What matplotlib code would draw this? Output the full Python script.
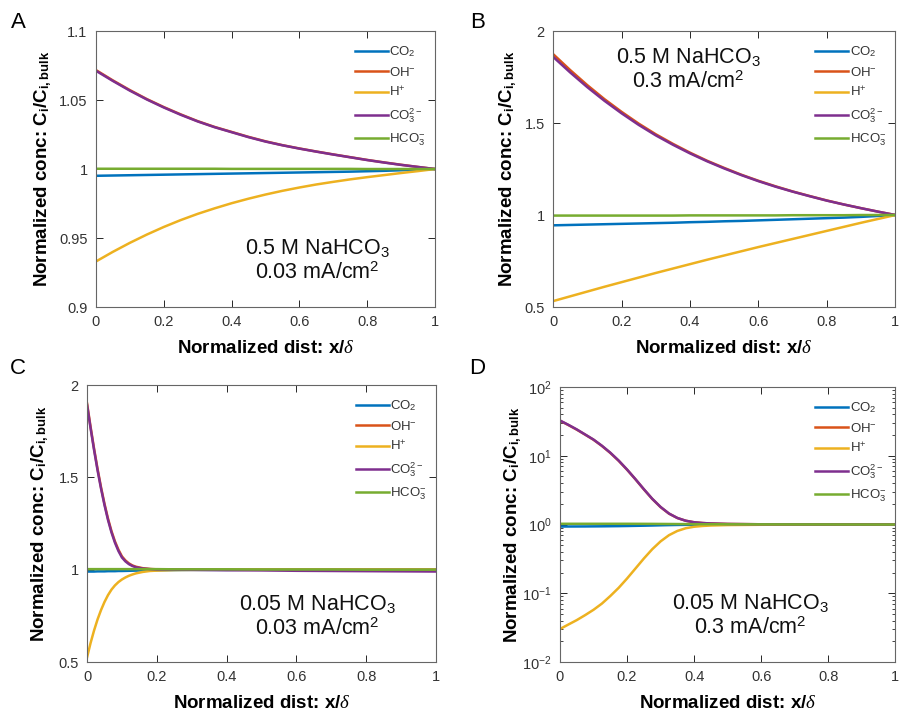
import numpy as np
import matplotlib
matplotlib.use("Agg")
import matplotlib.pyplot as plt
from matplotlib.ticker import FormatStrFormatter, LogLocator

plt.rcParams['font.family'] = ['Liberation Sans', 'DejaVu Sans']
plt.rcParams['mathtext.fontset'] = 'custom'
plt.rcParams['mathtext.rm'] = 'Liberation Sans'
plt.rcParams['mathtext.bf'] = 'Liberation Sans:bold'
plt.rcParams['mathtext.it'] = 'Liberation Serif:italic'
plt.rcParams['mathtext.sf'] = 'Liberation Sans'

# MATLAB default line colours
colors = ['#0072BD', '#D95319', '#EDB120', '#7E2F8E', '#77AC30']
species = ['CO$_2$', 'OH$^{-}$', 'H$^{+}$', 'CO$_3^{2-}$', 'HCO$_3^{-}$']

# ---- panel A: 0.5 M NaHCO3, 0.03 mA/cm2
x_A = np.linspace(0, 1, 21)
co2_A = [0.9951, 0.9953, 0.9955, 0.9957, 0.9959, 0.9961, 0.9963, 0.9965, 0.9967, 0.9969, 0.9971,
         0.9973, 0.9975, 0.9977, 0.9979, 0.9981, 0.9984, 0.9987, 0.9991, 0.9995, 1.0]
oh_A = [1.0717, 1.0642, 1.0572, 1.0507, 1.0449, 1.0396, 1.0347, 1.0305, 1.0269, 1.0233, 1.0201,
        1.0173, 1.0149, 1.0127, 1.0106, 1.0086, 1.0066, 1.0048, 1.0031, 1.0015, 1.0]
h_A = [0.933, 0.940, 0.9465, 0.9525, 0.958, 0.963, 0.9675, 0.9715, 0.9752, 0.9785, 0.9815,
       0.9842, 0.9866, 0.9888, 0.9907, 0.9925, 0.9941, 0.9956, 0.9971, 0.9985, 1.0]
co3_A = [1.0712, 1.0638, 1.0568, 1.0504, 1.0446, 1.0393, 1.0345, 1.0303, 1.0267, 1.0231, 1.0199,
         1.0172, 1.0148, 1.0126, 1.0105, 1.0085, 1.0065, 1.0047, 1.0030, 1.0015, 1.0]
hco3_A = [1.0002, 1.0002, 1.0002, 1.0002, 1.0002, 1.0002, 1.0002, 1.0002, 1.0001, 1.0001, 1.0001,
          1.0001, 1.0001, 1.0001, 1.0001, 1.0001, 1.0, 1.0, 1.0, 1.0, 1.0]

# ---- panel B: 0.5 M NaHCO3, 0.3 mA/cm2
x_B = np.linspace(0, 1, 21)
co2_B = [0.944, 0.946, 0.948, 0.950, 0.952, 0.954, 0.956, 0.958, 0.961, 0.963, 0.966,
         0.968, 0.971, 0.974, 0.977, 0.980, 0.983, 0.986, 0.990, 0.995, 1.0]
oh_B = [1.875, 1.788, 1.706, 1.630, 1.561, 1.497, 1.439, 1.387, 1.339, 1.295, 1.256,
        1.219, 1.186, 1.156, 1.128, 1.103, 1.079, 1.057, 1.037, 1.018, 1.0]
h_B = [0.532, 0.558, 0.584, 0.610, 0.635, 0.660, 0.685, 0.709, 0.733, 0.757, 0.780,
       0.803, 0.826, 0.848, 0.870, 0.892, 0.914, 0.936, 0.958, 0.979, 1.0]
co3_B = [1.860, 1.775, 1.695, 1.621, 1.553, 1.490, 1.433, 1.382, 1.335, 1.292, 1.253,
         1.217, 1.184, 1.154, 1.127, 1.102, 1.078, 1.057, 1.037, 1.018, 1.0]
hco3_B = [0.997, 0.997, 0.997, 0.997, 0.997, 0.997, 0.997, 0.997, 0.998, 0.998, 0.998,
          0.998, 0.998, 0.998, 0.999, 0.999, 0.999, 0.999, 1.0, 1.0, 1.0]

# ---- panel C: 0.05 M NaHCO3, 0.03 mA/cm2
x_C = [0, 0.01, 0.02, 0.03, 0.04, 0.05, 0.06, 0.07, 0.08, 0.09, 0.10,
       0.11, 0.12, 0.13, 0.14, 0.16, 0.18, 0.20,
       0.25, 0.30, 0.4, 0.5, 0.6, 0.7, 0.8, 0.9, 1.0]
co2_C = [0.990, 0.990, 0.990, 0.991, 0.991, 0.991, 0.992, 0.992, 0.992, 0.993, 0.993,
         0.9935, 0.994, 0.9945, 0.995, 0.996, 0.997, 0.997,
         0.998, 0.999, 0.999, 1.0, 1.0, 1.0, 1.0, 1.0, 1.0]
oh_C = [1.900, 1.775, 1.657, 1.547, 1.447, 1.357, 1.277, 1.209, 1.153, 1.108, 1.072,
        1.050, 1.034, 1.023, 1.016, 1.008, 1.004, 1.002,
        1.001, 1.0, 1.0, 1.0, 1.0, 1.0, 1.0, 1.0, 1.0]
h_C = [0.525, 0.602, 0.670, 0.730, 0.781, 0.825, 0.862, 0.892, 0.915, 0.933, 0.947,
       0.958, 0.967, 0.974, 0.980, 0.988, 0.993, 0.995,
       0.998, 0.999, 1.0, 1.0, 1.0, 1.0, 1.0, 1.0, 1.0]
co3_C = [1.893, 1.768, 1.650, 1.540, 1.440, 1.350, 1.270, 1.202, 1.146, 1.101, 1.066,
         1.045, 1.030, 1.020, 1.013, 1.006, 1.003, 1.001,
         1.0, 0.999, 0.997, 0.996, 0.994, 0.993, 0.992, 0.991, 0.990]
hco3_C = [1.003, 1.003, 1.003, 1.003, 1.003, 1.003, 1.003, 1.003, 1.003, 1.003, 1.003,
          1.003, 1.003, 1.003, 1.003, 1.003, 1.003, 1.003,
          1.002, 1.002, 1.002, 1.001, 1.001, 1.001, 1.0, 1.0, 1.0]

# ---- panel D: 0.05 M NaHCO3, 0.3 mA/cm2 (log scale)
x_D = [0, 0.025, 0.05, 0.075, 0.1, 0.125, 0.15, 0.175, 0.2, 0.225, 0.25, 0.275, 0.3, 0.325,
       0.35, 0.375, 0.4, 0.425, 0.45, 0.5, 0.6, 0.7, 0.8, 0.9, 1.0]
co2_D = [0.935, 0.936, 0.937, 0.938, 0.940, 0.942, 0.945, 0.948, 0.952, 0.957, 0.962, 0.968,
         0.975, 0.981, 0.986, 0.990, 0.993, 0.995, 0.996, 0.998, 0.999, 1.0, 1.0, 1.0, 1.0]
oh_D = [32.4, 28.0, 24.0, 20.3, 17.1, 13.9, 11.0, 8.45, 6.27, 4.55, 3.25, 2.36, 1.79, 1.44,
        1.243, 1.134, 1.078, 1.051, 1.035, 1.019, 1.008, 1.004, 1.002, 1.001, 1.0]
h_D = [0.0302, 0.0351, 0.0407, 0.0481, 0.0575, 0.0708, 0.0912, 0.120, 0.164, 0.229, 0.320,
       0.437, 0.569, 0.700, 0.807, 0.883, 0.929, 0.953, 0.968, 0.982, 0.992, 0.996, 0.998,
       0.999, 1.0]
co3_D = [32.6, 28.2, 24.2, 20.4, 17.2, 14.0, 11.1, 8.51, 6.31, 4.57, 3.27, 2.37, 1.80, 1.445,
         1.245, 1.135, 1.079, 1.052, 1.035, 1.019, 1.008, 1.004, 1.002, 1.001, 1.0]
hco3_D = [1.025, 1.025, 1.025, 1.025, 1.025, 1.025, 1.025, 1.025, 1.025, 1.024, 1.023, 1.022,
          1.020, 1.018, 1.016, 1.014, 1.012, 1.011, 1.010, 1.008, 1.006, 1.004, 1.003, 1.001, 1.0]

panels = [
    ('A', x_A, [co2_A, oh_A, h_A, co3_A, hco3_A], [0.9, 1.1], [0.9, 0.95, 1, 1.05, 1.1],
     '0.5 M NaHCO$_3$\n0.03 mA/cm$^2$', (0.652, 0.17), False),
    ('B', x_B, [co2_B, oh_B, h_B, co3_B, hco3_B], [0.5, 2], [0.5, 1, 1.5, 2],
     '0.5 M NaHCO$_3$\n0.3 mA/cm$^2$', (0.395, 0.86), False),
    ('C', x_C, [co2_C, oh_C, h_C, co3_C, hco3_C], [0.5, 2], [0.5, 1, 1.5, 2],
     '0.05 M NaHCO$_3$\n0.03 mA/cm$^2$', (0.659, 0.163), False),
    ('D', x_D, [co2_D, oh_D, h_D, co3_D, hco3_D], [1e-2, 1e2], None,
     '0.05 M NaHCO$_3$\n0.3 mA/cm$^2$', (0.568, 0.17), True),
]

# axes rectangles in figure fractions (left, bottom, width, height)
rects = [
    [0.1065, 0.5706, 0.3762, 0.386],
    [0.6138, 0.5706, 0.3800, 0.386],
    [0.0966, 0.0741, 0.3873, 0.3874],
    [0.6215, 0.0741, 0.3723, 0.3846],
]
ylab_x = [-0.123, -0.098, -0.103, -0.108]
letter_pos = [(0.020, 0.969), (0.530, 0.969), (0.020, 0.485), (0.530, 0.485)]

fig = plt.figure(figsize=(9.01, 7.15), dpi=100)
axcol = '#262626'

for i, (tag, x, ys, ylim, yticks, note, note_pos, logy) in enumerate(panels):
    ax = fig.add_axes(rects[i])
    for y, c, lab in zip(ys, colors, species):
        ax.plot(x, y, color=c, lw=1.8, label=lab)
    if logy:
        ax.set_yscale('log')
        ax.yaxis.set_major_locator(LogLocator(base=10, numticks=10))
    else:
        ax.set_yticks(yticks)
        ax.yaxis.set_major_formatter(FormatStrFormatter('%g'))
    ax.set_xlim(0, 1)
    ax.set_ylim(*ylim)
    ax.set_xticks([0, 0.2, 0.4, 0.6, 0.8, 1])
    ax.xaxis.set_major_formatter(FormatStrFormatter('%g'))
    ax.tick_params(which='both', direction='in', top=True, right=True,
                   labelsize=10.5, colors=axcol, labelcolor='#333333', pad=6)
    ax.tick_params(which='major', length=5, width=0.7)
    ax.tick_params(which='minor', length=2.5, width=0.6)
    for s in ax.spines.values():
        s.set_color('#666666')
        s.set_linewidth(0.8)

    ax.set_xlabel(r'Normalized dist: x/$\delta$', fontsize=13.5, fontweight='bold')
    ax.xaxis.set_label_coords(0.5, -0.12)
    ax.set_ylabel(r'Normalized conc: C$_\mathbf{i}$/C$_\mathbf{i,bulk}$',
                  fontsize=13.5, fontweight='bold')
    ax.yaxis.set_label_coords(ylab_x[i], 0.5)

    ax.text(note_pos[0], note_pos[1], note, transform=ax.transAxes, ha='center',
            va='center', fontsize=15.5, linespacing=1.2, color='#111111')

    leg = ax.legend(loc='upper right', bbox_to_anchor=(1.0, 0.985), frameon=False,
                    fontsize=9.5, handlelength=2.5, handletextpad=0.1,
                    labelspacing=0.5, borderaxespad=0.3)
    for t in leg.get_texts():
        t.set_color('#333333')

    fig.text(letter_pos[i][0], letter_pos[i][1], tag, fontsize=16,
             ha='center', va='center')

fig.savefig('out.png', dpi=100)
